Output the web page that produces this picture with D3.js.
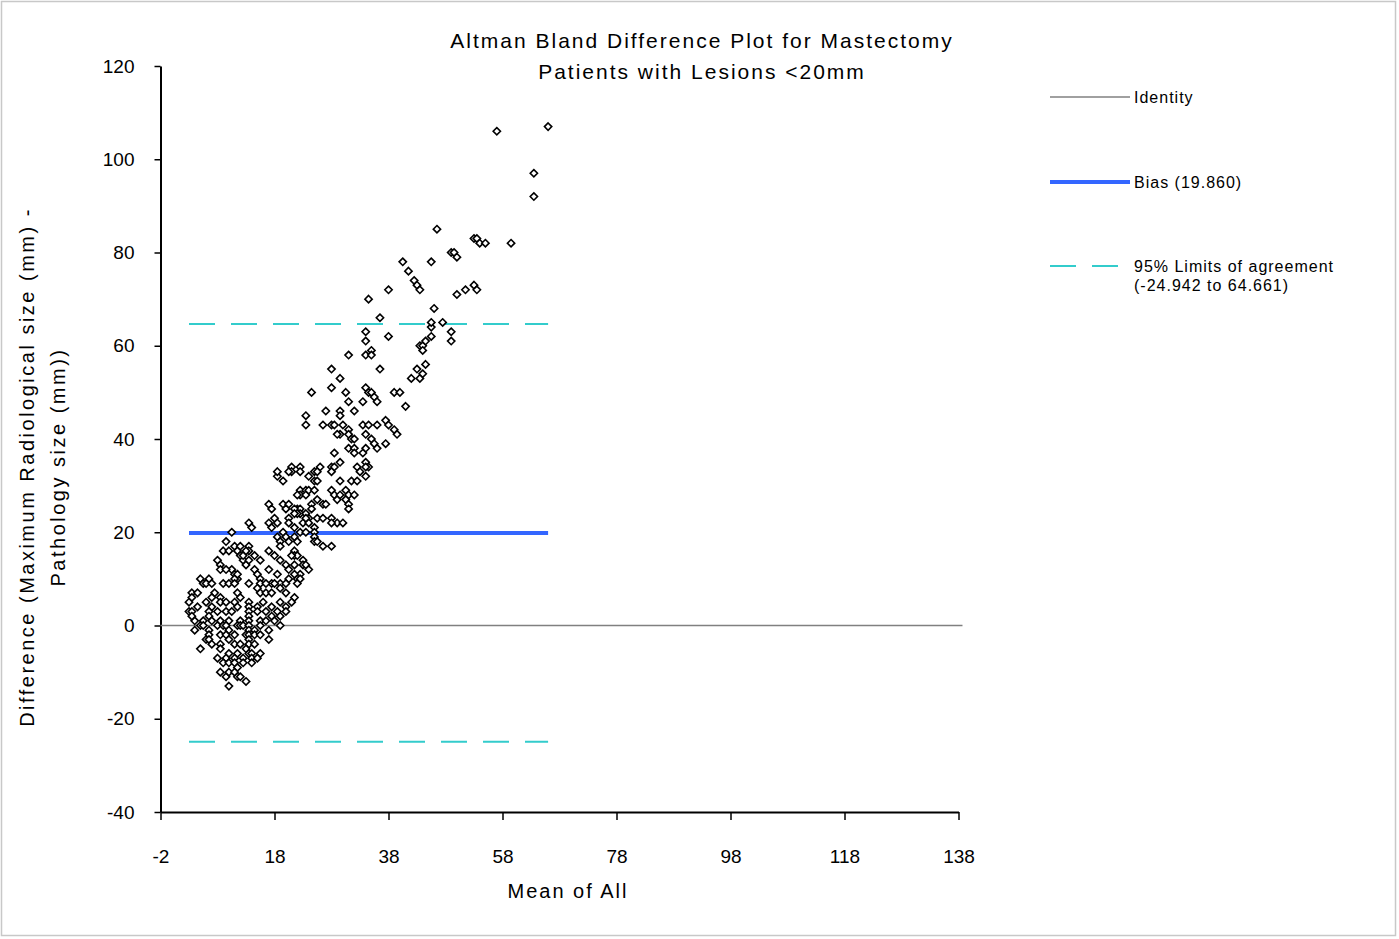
<!DOCTYPE html>
<html lang="en">
<head>
  <meta charset="UTF-8">
  <title>Altman Bland Difference Plot</title>
  <script src="https://d3js.org/d3.v7.min.js"></script>
  <style>
    html, body { margin: 0; padding: 0; background: #fff; }
    svg text { font-family: "Liberation Sans", Arial, sans-serif; fill: #000; }
  </style>
</head>
<body>
  <script>
    ((window, document) => {
      "use strict";

      /**
       * -----------------------------------------------------------------------
       *  Data
       * -----------------------------------------------------------------------
       */

      const titleLines = ["Altman Bland Difference Plot for Mastectomy", "Patients with Lesions <20mm"];
      const yLabelLines = ["Difference (Maximum Radiological size (mm) -", "Pathology size (mm))"];
      const xLabel = "Mean of All";

      const xTicks = [-2, 18, 38, 58, 78, 98, 118, 138];
      const yTicks = [-40, -20, 0, 20, 40, 60, 80, 100, 120];

      const bias = 19.860;
      const limits = [-24.942, 64.661];
      const legendLabels = ["Identity", "Bias (19.860)", ["95% Limits of agreement", "(-24.942 to 64.661)"]];

      // [mean of all, difference]
      const points = [
        [57, 106], [66, 107], [63.5, 97], [63.5, 92], [46.5, 85], [53, 83], [53.5, 83], [54, 82],
        [55, 82], [59.5, 82], [49, 80], [49.5, 80], [50, 79], [40.5, 78], [45.5, 78], [41.5, 76],
        [42.5, 74], [43, 73], [43.5, 72], [38, 72], [50, 71], [51.5, 72], [53, 73], [53.5, 72],
        [34.5, 70], [46, 68], [36.5, 66], [45.5, 64], [45.5, 65], [47.5, 65], [49, 63], [34, 63],
        [45.5, 62], [49, 61], [34, 61], [38, 62], [43.5, 60], [44, 60], [44.5, 61], [44, 59],
        [35, 59], [34, 58], [35, 58], [31, 58], [36.5, 55], [28, 55], [44.5, 56], [43, 55],
        [42, 53], [43.5, 53], [44, 54], [29.5, 53], [28, 51], [34, 51], [34.5, 50], [35, 50],
        [35.5, 49], [36, 48], [24.5, 50], [30.5, 50], [31, 48], [33.5, 48], [39, 50], [40, 50],
        [41, 47], [27, 46], [29.5, 46], [29.5, 45], [32, 46], [23.5, 45], [37.5, 44], [23.5, 43],
        [26.5, 43], [28, 43], [28.5, 43], [30, 43], [31, 42], [33.5, 43], [34.5, 43], [36, 43],
        [38, 43], [39, 42], [39.5, 41], [29.5, 41], [29, 41], [31, 41], [31.5, 40], [32, 40],
        [34, 41], [35, 40], [35.5, 39], [36, 38], [37.5, 39], [31, 38], [32, 38], [32, 37],
        [34, 38], [33.5, 37], [34, 35], [34.5, 34], [28.5, 37], [29.5, 35], [28, 34], [28.5, 34],
        [26, 34], [21, 34], [22.5, 34], [32.5, 34], [34, 34], [22.5, 33], [21, 33], [20.5, 33],
        [25, 33], [25.5, 33], [25, 31], [25.5, 31], [28, 33], [33, 33], [34, 32], [29.5, 31],
        [31.5, 31], [32.5, 31], [22.5, 29], [23.5, 29], [22.5, 28], [23.5, 28], [22, 28], [24, 29],
        [25, 29], [28, 29], [28.5, 28], [29, 27], [29.5, 28], [30.5, 29], [31, 28], [32, 28],
        [30.5, 27], [31, 26], [31, 25], [24.5, 26], [24.5, 25], [25.5, 27], [26.5, 26], [27, 26],
        [22, 25], [22.5, 25], [22.5, 24], [22, 24], [23.5, 24], [24, 23], [25.5, 23], [26.5, 23],
        [28, 23], [29, 22], [30, 22], [28, 22], [23, 22], [24, 22], [25, 21], [25, 20],
        [25, 19], [25, 18], [21.5, 21], [22.5, 20], [23.5, 20], [21.5, 19], [22, 18], [25.5, 18],
        [26.5, 17], [28, 17], [21.5, 16], [21.5, 15], [22, 15], [21, 15], [23, 14], [23, 13],
        [23.5, 13], [24, 12], [21.5, 13], [22.5, 11], [20.5, 10], [22, 10],
        [18.5, 32], [18.5, 33], [24, 32], [19.5, 31], [17, 26], [17.5, 25], [19.5, 26], [20.5, 26],
        [20, 25], [21.5, 25], [21.5, 24], [18, 23], [18.5, 22], [20.5, 23], [20.5, 22], [23.5, 23],
        [13.5, 22], [14, 21], [10.5, 20], [17, 22], [17.5, 21], [19.5, 20], [18.5, 19], [19, 18],
        [20, 19], [20.5, 18], [19, 17], [9.5, 18], [9, 16], [10, 16], [11, 17], [11.5, 16],
        [12, 15], [12.5, 14], [12.5, 15], [13.5, 17], [13.5, 16], [17, 16], [18, 15], [14.5, 15],
        [15.5, 14], [19, 14], [20, 13], [8, 14], [8.5, 13], [8.5, 12], [13, 13], [14.5, 12],
        [15, 11], [15.5, 10], [17, 12], [18.5, 11], [20.5, 12], [21.5, 11], [22.5, 10], [10.5, 12],
        [11, 11], [11.5, 10], [11, 10], [5, 10], [6.5, 10], [5.5, 9], [17.5, 9], [19, 9],
        [12, 17], [13, 16], [13.5, 14], [9.5, 12], [11.5, 11],
        [6, 9], [7, 9], [9, 9], [10, 9], [11, 9], [13.5, 9], [15.5, 9], [16.5, 9],
        [18, 9], [20, 9], [22, 9], [3.5, 7], [4.5, 7], [3.5, 6], [7.5, 7], [7, 6],
        [8.5, 6], [11.5, 7], [12, 6], [15, 8], [15.5, 7], [16.5, 7], [17.5, 7], [19, 8],
        [20, 7], [21.5, 6], [6, 5], [7, 4], [8.5, 5], [9.5, 5], [11, 5], [11.5, 4],
        [13.5, 5], [13.5, 4], [15, 4], [16, 5], [17.5, 4], [19, 5], [20, 4], [21, 5],
        [3, 3], [3.5, 3], [6.5, 3], [6.5, 2], [8, 3], [9.5, 3], [10.5, 3], [13.5, 3],
        [13.5, 2], [15, 3], [16.5, 3], [17.5, 2], [18.5, 3], [20, 3], [4, 1], [5.5, 1],
        [7, 1], [8.5, 1], [10, 1], [12, 1], [13.5, 1], [15.5, 1], [16.5, 1], [18, 1],
        [19, 2], [4, -1], [5, 0], [5.5, 0], [6.5, -1], [8, 0], [9, 0], [9.5, 0],
        [10, -1], [11.5, 0], [12, 0], [12.5, 0], [13.5, 0], [13.5, -1], [14.5, -1], [15.5, 0],
        [17, -1], [19, 0], [6.5, -2], [8.5, -2], [9.5, -2], [11, -2], [13, -2], [13.5, -2],
        [14.5, -2], [15.5, -2], [17, -3], [5, -5], [6, -3], [6.5, -3], [7, -4], [8.5, -4],
        [10, -3], [11, -4], [12, -4], [13.5, -3], [13.5, -4], [14.5, -4], [8.5, -5], [10, -6],
        [11.5, -6], [13, -5], [13.5, -6], [14, -6], [15.5, -6], [8, -7], [9.5, -7], [11, -7],
        [12.5, -7], [14, -7], [14, -8], [15, -7], [9, -8], [10, -8], [11, -8], [11.5, -9],
        [12.5, -8], [8.5, -10], [9.5, -11], [10, -10], [11, -10], [11.5, -11], [12, -11], [13, -12],
        [10, -13], [3, 5], [3.5, 2], [4.5, 4]
      ];


      /**
       * -----------------------------------------------------------------------
       *  Render
       * -----------------------------------------------------------------------
       */

      const width = 1399, height = 939;
      const plot = { left: 160.5, right: 958.5, top: 66, bottom: 812 };

      const svg = d3.select("body").append("svg")
        .attr("width", width).attr("height", height);

      svg.append("rect")
        .attr("x", 1.5).attr("y", 1.5)
        .attr("width", width - 5).attr("height", height - 5)
        .attr("fill", "#fff").attr("stroke", "#c8c8c8").attr("stroke-width", 1.5);

      const x = d3.scaleLinear().domain([-2, 138]).range([plot.left, plot.right]);
      const y = d3.scaleLinear().domain([-40, 120]).range([plot.bottom, plot.top]);

      // Title
      svg.append("text")
        .attr("x", 702).attr("y", 48)
        .attr("text-anchor", "middle").style("font-size", "21px").style("letter-spacing", "2px")
        .selectAll("tspan").data(titleLines).enter().append("tspan")
          .attr("x", 702).attr("dy", (d, i) => i ? 31 : 0).text(d => d);

      // Axes (plain hyphen for negatives, as in the original)
      const fmt = d => String(d);
      const xAxis = svg.append("g")
        .attr("transform", `translate(0, ${plot.bottom})`)
        .call(d3.axisBottom(x).tickValues(xTicks).tickFormat(fmt).tickSize(8).tickPadding(30).tickSizeOuter(0));
      const yAxis = svg.append("g")
        .attr("transform", `translate(${plot.left}, 0)`)
        .call(d3.axisLeft(y).tickValues(yTicks).tickFormat(fmt).tickSize(6).tickPadding(20).tickSizeOuter(0));

      [xAxis, yAxis].forEach(g => {
        g.select(".domain").attr("stroke", "#000").attr("stroke-width", 2);
        g.selectAll(".tick line").attr("stroke", "#000").attr("stroke-width", 1.5);
        g.selectAll(".tick text").style("font-size", "19px").attr("fill", "#000");
      });

      // Axis titles
      svg.append("text")
        .attr("x", 568).attr("y", 898)
        .attr("text-anchor", "middle").style("font-size", "20px").style("letter-spacing", "2px")
        .text(xLabel);

      svg.append("text")
        .attr("transform", "translate(34, 467) rotate(-90)")
        .attr("text-anchor", "middle").style("font-size", "20px").style("letter-spacing", "2.5px")
        .selectAll("tspan").data(yLabelLines).enter().append("tspan")
          .attr("x", 0).attr("dy", (d, i) => i ? 31 : 0).text(d => d);

      // Reference lines
      const meanExtent = d3.extent(points, d => d[0]);

      svg.append("line")
        .attr("x1", x(-2)).attr("x2", x(138.7))
        .attr("y1", y(0)).attr("y2", y(0))
        .attr("stroke", "#808080").attr("stroke-width", 1.5);

      svg.append("line")
        .attr("x1", x(meanExtent[0])).attr("x2", x(meanExtent[1]))
        .attr("y1", y(bias)).attr("y2", y(bias))
        .attr("stroke", "#3366ff").attr("stroke-width", 4);

      svg.selectAll("line.limit")
        .data(limits).enter().append("line")
          .attr("class", "limit")
          .attr("x1", x(meanExtent[0])).attr("x2", x(meanExtent[1]))
          .attr("y1", d => y(d)).attr("y2", d => y(d))
          .attr("stroke", "#33cccc").attr("stroke-width", 2)
          .attr("stroke-dasharray", "26,16");

      // Points
      const marker = d3.symbol().type(d3.symbolDiamond2).size(34);
      svg.append("g").selectAll("path")
        .data(points).enter().append("path")
          .attr("d", marker)
          .attr("transform", d => `translate(${x(d[0])}, ${y(d[1])})`)
          .attr("fill", "#fff").attr("stroke", "#000").attr("stroke-width", 1.6);

      // Legend
      const legend = svg.append("g").attr("transform", "translate(1050, 0)");
      const legendStyles = [
        { y: 97, stroke: "#808080", width: 1.5, dash: null },
        { y: 182, stroke: "#3366ff", width: 4, dash: null },
        { y: 266, stroke: "#33cccc", width: 2, dash: "26,16" }
      ];
      legendStyles.forEach((s, i) => {
        legend.append("line")
          .attr("x1", 0).attr("x2", 80).attr("y1", s.y).attr("y2", s.y)
          .attr("stroke", s.stroke).attr("stroke-width", s.width)
          .attr("stroke-dasharray", s.dash);
        const lines = [].concat(legendLabels[i]);
        legend.append("text")
          .attr("x", 84).attr("y", s.y + 6)
          .style("font-size", "16px").style("letter-spacing", "1px")
          .selectAll("tspan").data(lines).enter().append("tspan")
            .attr("x", 84).attr("dy", (d, j) => j ? 19 : 0).text(d => d);
      });

    })(window, document);
  </script>
</body>
</html>
